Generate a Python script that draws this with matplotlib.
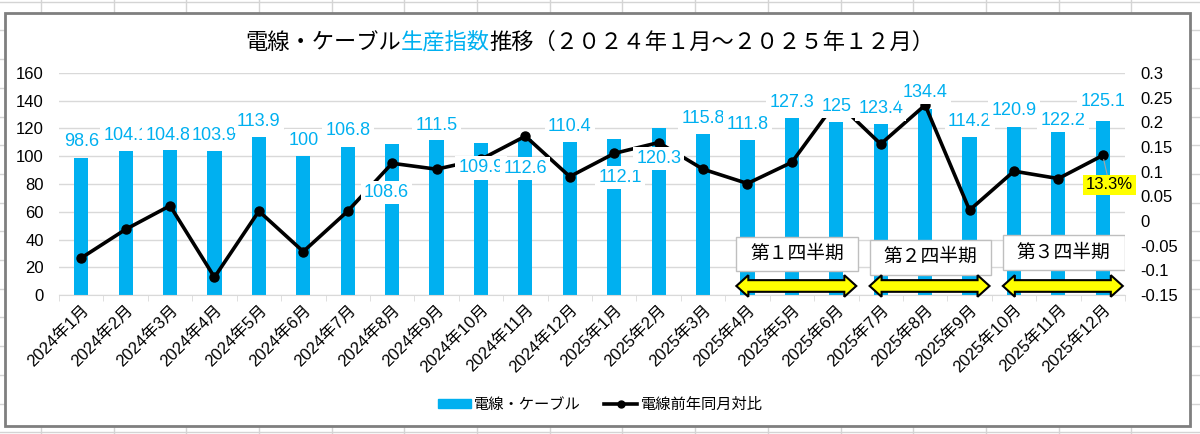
import numpy as np
import matplotlib.pyplot as plt
from matplotlib.patches import Rectangle, Polygon
from matplotlib.lines import Line2D
from matplotlib.ticker import FuncFormatter
from matplotlib.offsetbox import TextArea, HPacker, AnchoredOffsetbox

plt.rcParams['font.family'] = ['Liberation Sans', 'Noto Sans CJK JP', 'DejaVu Sans']
plt.rcParams['axes.unicode_minus'] = False

# data
months = ['2024年1月', '2024年2月', '2024年3月', '2024年4月', '2024年5月', '2024年6月',
          '2024年7月', '2024年8月', '2024年9月', '2024年10月', '2024年11月', '2024年12月',
          '2025年1月', '2025年2月', '2025年3月', '2025年4月', '2025年5月', '2025年6月',
          '2025年7月', '2025年8月', '2025年9月', '2025年10月', '2025年11月', '2025年12月']
index_vals = [98.6, 104.1, 104.8, 103.9, 113.9, 100.0, 106.8, 108.6, 111.5, 109.9, 112.6, 110.4,
              112.1, 120.3, 115.8, 111.8, 127.3, 125.0, 123.4, 134.4, 114.2, 120.9, 122.2, 125.1]
yoy = [-0.075, -0.017, 0.031, -0.114, 0.020, -0.062, 0.020, 0.117, 0.105, 0.125, 0.172, 0.090,
       0.137, 0.159, 0.105, 0.076, 0.119, 0.242, 0.156, 0.235, 0.022, 0.101, 0.086, 0.133]
quarters = ['第１四半期', '第２四半期', '第３四半期']
quarter_months = [(15, 17), (18, 20), (21, 23)]   # bar index range of each quarter

# where Excel put the data labels (left axis units) - layout only
label_y = [110.5, 115.3, 115.3, 115.3, 125.0, 111.0, 118.2, 74.0, 122.5, 91.7, 91.3, 121.8,
           84.8, 98.5, 127.3, 123.2, 138.6, 135.7, 134.1, 145.8, 124.9, 132.8, 125.6, 139.3]
label_dx = [0, 0, -0.05, 0, 0, 0, 0, -0.13, 0, 0, 0, 0,
            0.13, 0, 0, 0, 0, 0, 0, 0, 0, 0, 0.1, 0]
box_y = [17, 14.5, 18]

blue = '#00B0F0'
x = np.arange(len(months))

fig = plt.figure(figsize=(12, 4.34), dpi=100)

# spreadsheet behind the chart
bg = fig.add_axes([0, 0, 1, 1], zorder=-5)
bg.set_xlim(0, 1200)
bg.set_ylim(434, 0)
bg.axis('off')
for yy in np.arange(1.7, 434, 28.7):
    bg.axhline(yy, color='#D4D4D4', lw=1)
for xx in np.arange(40.8, 1200, 72.7):
    bg.axvline(xx, color='#D4D4D4', lw=1)
bg.add_patch(Rectangle((5, 13), 1185, 413, fc='white', ec='#7F7F7F', lw=2, zorder=3))

ax = fig.add_axes([59 / 1200, 1 - 295 / 434, (1125 - 59) / 1200, (295 - 73) / 434])
ax.patch.set_alpha(0)
ax.bar(x, index_vals, width=0.32, color=blue, zorder=2)
ax.set_xlim(-0.5, 23.5)
ax.set_ylim(0, 160)
ax.set_yticks(range(0, 161, 20))
ax.grid(axis='y', color='#D9D9D9', lw=1)
ax.set_axisbelow(True)
for s in ['top', 'left', 'right']:
    ax.spines[s].set_visible(False)
ax.spines['bottom'].set_color('#D9D9D9')
ax.set_xticks(x)
ax.set_xticklabels(months, rotation=45, ha='right', va='top', rotation_mode='anchor')
ax.set_xticks(np.arange(-0.5, 24, 1), minor=True)
ax.tick_params(axis='x', which='major', length=0, labelsize=12, pad=5)
ax.tick_params(axis='x', which='minor', length=4, color='#D9D9D9')
ax.tick_params(axis='y', length=0, labelsize=12, pad=11)

ax2 = ax.twinx()
ax2.plot(x, yoy, color='black', lw=2.6, marker='o', markersize=6.5, zorder=3)
ax2.set_ylim(-0.15, 0.3)
ax2.set_yticks(np.arange(-0.15, 0.301, 0.05))
ax2.yaxis.set_major_formatter(FuncFormatter(lambda v, p: '%g' % round(v, 2)))
ax2.tick_params(axis='y', length=0, labelsize=12, pad=11)
for s in ax2.spines.values():
    s.set_visible(False)

# data labels of the bars (drawn above the line)
for i, v in enumerate(index_vals):
    ax2.text(i + label_dx[i], label_y[i], '%g' % v, transform=ax.transData, ha='center', va='center',
             fontsize=13, color=blue, zorder=5 + i * 0.01,
             bbox=dict(boxstyle='square,pad=0.18', fc='white', ec='none'))

ax2.annotate('13.3%', xy=(23, yoy[-1]), xytext=(23.15, 0.073), ha='center', va='center',
             fontsize=12, zorder=8,
             bbox=dict(boxstyle='square,pad=0.15', fc='#FFFF00', ec='none'),
             arrowprops=dict(arrowstyle='-', color='#A6A6A6', lw=0.8, shrinkA=0, shrinkB=3))

# quarter boxes and yellow double arrows
hl, th, hh, yc = 0.27, 4.2, 7.8, 6.5
for i, (q, (a, b)) in enumerate(zip(quarters, quarter_months)):
    c = (a + b) / 2 + 0.12
    ax2.add_patch(Rectangle((c - 1.37, box_y[i]), 2.74, 25, transform=ax.transData,
                            fc='white', ec='#BFBFBF', lw=1, zorder=6))
    ax2.text(c, box_y[i] + 12.5, q, transform=ax.transData, ha='center', va='center',
             fontsize=13.5, zorder=7)
    x0, x1 = a - 0.25, b + 0.45
    verts = [(x0, yc), (x0 + hl, yc + hh), (x0 + hl, yc + th), (x1 - hl, yc + th), (x1 - hl, yc + hh),
             (x1, yc), (x1 - hl, yc - hh), (x1 - hl, yc - th), (x0 + hl, yc - th), (x0 + hl, yc - hh)]
    ax2.add_patch(Polygon(verts, closed=True, transform=ax.transData, fc='#FFFF00', ec='black',
                          lw=1.5, joinstyle='miter', clip_on=False, zorder=6))

# title in three colours
tsize = 16
parts = [TextArea('電線・ケーブル', textprops=dict(color='black', fontsize=tsize)),
         TextArea('生産指数', textprops=dict(color=blue, fontsize=tsize)),
         TextArea('推移（２０２４年１月～２０２５年１２月）', textprops=dict(color='black', fontsize=tsize))]
title = AnchoredOffsetbox(loc='center', child=HPacker(children=parts, sep=0, pad=0, align='baseline'),
                          bbox_to_anchor=(590 / 1200, 1 - 43 / 434), bbox_transform=fig.transFigure,
                          frameon=False, pad=0, borderpad=0)
fig.add_artist(title)

handles = [Rectangle((0, 0), 1, 1, color=blue),
           Line2D([], [], color='black', lw=2.6, marker='o', markersize=5)]
fig.legend(handles, ['電線・ケーブル', '電線前年同月対比'], loc='center',
           bbox_to_anchor=(0.5, 1 - 405 / 434), ncol=2, frameon=False, fontsize=11,
           handlelength=2.2, handleheight=0.5, handletextpad=0.2, columnspacing=1.5)

fig.savefig('out.png', dpi=100)
